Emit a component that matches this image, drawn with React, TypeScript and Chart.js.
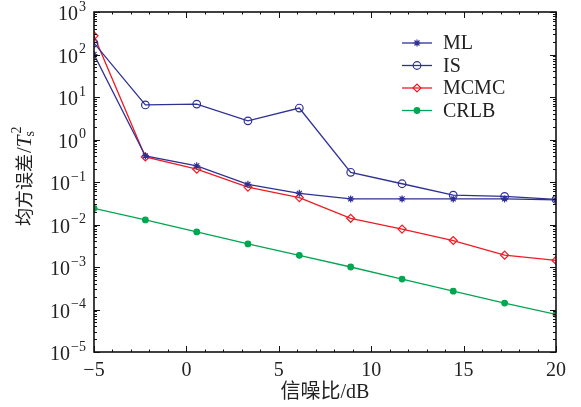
import { useEffect, useRef } from "react";
import { Chart, registerables } from "chart.js";
import { drawPoint } from "chart.js/helpers";

Chart.register(...registerables);

const snrDb = [-5, -2.22, 0.56, 3.33, 6.11, 8.89, 11.67, 14.44, 17.22, 20];
const mlValues = [100, 0.41, 0.24, 0.088, 0.054, 0.04, 0.04, 0.04, 0.04, 0.038];
const isValues = [186, 6.5, 6.8, 2.75, 5.5, 0.169, 0.091, 0.049, 0.046, 0.039];
const mcmcValues = [275, 0.39, 0.2, 0.076, 0.043, 0.014, 0.0078, 0.0042, 0.0019, 0.00143];
const crlbValues = [0.024, 0.0128, 0.0067, 0.0035, 0.00188, 0.001, 0.00052, 0.00027, 0.000142, 0.000077];
const seriesLabels = ["ML", "IS", "MCMC", "CRLB"];
const xTickValues = [-5, 0, 5, 10, 15, 20];
const yTickExponents = [-5, -4, -3, -2, -1, 0, 1, 2, 3];
const xTitle = "信噪比/dB";
const yTitleMain = "均方误差/";
const yTitleSymbol = "T";
const yTitleSub = "s";
const yTitleSup = "2";

const SERIF = "'Liberation Serif', 'Noto Sans CJK SC', serif";
const CJK = "'Noto Sans CJK SC', sans-serif";
const TEXT = "#222";
const BLUE = "#2E3192";
const RED = "#ED1C24";
const GREEN = "#00A651";

const framePlugin = {
  id: "frameAndLabels",
  afterDatasetsDraw(chart: any) {
    const { ctx, chartArea } = chart;
    const { left, right, top, bottom } = chartArea;
    const xs = chart.scales.x;
    const ys = chart.scales.y;
    ctx.save();
    ctx.strokeStyle = "#111";
    ctx.lineWidth = 1;
    // ticks
    ctx.beginPath();
    for (let v = xs.min; v <= xs.max; v += 1) {
      const px = Math.round(xs.getPixelForValue(v)) + 0.5;
      const len = xTickValues.includes(v) ? 6 : 2.5;
      ctx.moveTo(px, bottom);
      ctx.lineTo(px, bottom - len);
      ctx.moveTo(px, top);
      ctx.lineTo(px, top + len);
    }
    for (let e = yTickExponents[0]; e <= yTickExponents[yTickExponents.length - 1]; e++) {
      for (let m = 1; m <= 9; m++) {
        const val = m * Math.pow(10, e);
        if (val > ys.max * 1.0001) break;
        const py = Math.round(ys.getPixelForValue(val)) + 0.5;
        const len = m === 1 ? 6 : 3;
        ctx.moveTo(left, py);
        ctx.lineTo(left + len, py);
        ctx.moveTo(right, py);
        ctx.lineTo(right - len, py);
      }
    }
    ctx.stroke();
    // frame
    ctx.lineWidth = 1.6;
    ctx.strokeRect(left, top, right - left, bottom - top);

    // y tick labels
    ctx.fillStyle = TEXT;
    ctx.textBaseline = "middle";
    for (const e of yTickExponents) {
      const py = ys.getPixelForValue(Math.pow(10, e));
      const base = "10";
      const exp = e < 0 ? "\u2212" + Math.abs(e) : String(e);
      ctx.font = "20px " + SERIF;
      const wb = ctx.measureText(base).width;
      ctx.font = "14px " + SERIF;
      const we = ctx.measureText(exp).width;
      const rx = left - 8;
      const sx = rx - we - wb - 1;
      ctx.font = "20px " + SERIF;
      ctx.textAlign = "left";
      ctx.fillText(base, sx, py + 3);
      ctx.font = "14px " + SERIF;
      ctx.fillText(exp, sx + wb + 1, py - 5);
    }

    // y title (rotated)
    ctx.save();
    const cy = (top + bottom) / 2 - 5;
    ctx.translate(24, cy);
    ctx.rotate(-Math.PI / 2);
    ctx.textBaseline = "alphabetic";
    ctx.textAlign = "left";
    ctx.font = "18px " + CJK;
    const cjkPart = yTitleMain.slice(0, -1);
    const wc = ctx.measureText(cjkPart).width;
    ctx.font = "21px " + SERIF;
    const ws = ctx.measureText("/").width;
    ctx.font = "italic 21px " + SERIF;
    const wt = ctx.measureText(yTitleSymbol).width;
    ctx.font = "14px " + SERIF;
    const wsub = ctx.measureText(yTitleSub).width;
    const total = wc + ws + wt + wsub + 3;
    let x = -total / 2;
    const by = 7;
    ctx.font = "18px " + CJK;
    ctx.fillText(cjkPart, x, by);
    x += wc + 1;
    ctx.font = "21px " + SERIF;
    ctx.fillText("/", x, by);
    x += ws;
    ctx.font = "italic 21px " + SERIF;
    ctx.fillText(yTitleSymbol, x, by);
    x += wt;
    ctx.font = "14px " + SERIF;
    ctx.fillText(yTitleSub, x - 1, by + 3);
    ctx.fillText(yTitleSup, x + 2, by - 10);
    ctx.restore();

    // legend
    const lx0 = right - 154;
    const lx1 = right - 124;
    const ly0 = top + 31;
    const step = 22.5;
    chart.data.datasets.forEach((ds: any, i: number) => {
      const y = ly0 + i * step;
      ctx.strokeStyle = ds.borderColor;
      ctx.lineWidth = ds.borderWidth;
      ctx.beginPath();
      ctx.moveTo(lx0, y);
      ctx.lineTo(lx1, y);
      ctx.stroke();
      ctx.fillStyle = ds.pointBackgroundColor;
      ctx.strokeStyle = ds.borderColor;
      ctx.lineWidth = ds.pointBorderWidth;
      drawPoint(ctx, { pointStyle: ds.pointStyle, radius: ds.pointRadius, rotation: 0, borderWidth: ds.pointBorderWidth }, (lx0 + lx1) / 2, y);
      ctx.fillStyle = TEXT;
      ctx.font = "20px " + SERIF;
      ctx.textAlign = "left";
      ctx.textBaseline = "middle";
      ctx.fillText(ds.label, lx1 + 11, y + 1);
    });
    ctx.restore();
  },
};

function mk(label: string, values: number[], color: string, style: string, radius: number, filled: boolean) {
  return {
    label,
    data: snrDb.map((x, i) => ({ x, y: values[i] })),
    borderColor: color,
    borderWidth: 1.3,
    backgroundColor: color,
    pointStyle: style,
    pointRadius: radius,
    pointBorderWidth: 1.2,
    pointBorderColor: color,
    pointBackgroundColor: filled ? color : "rgba(0,0,0,0)",
    tension: 0,
    fill: false,
  };
}

export default function App() {
  const ref = useRef<HTMLCanvasElement | null>(null);
  useEffect(() => {
    if (!ref.current) return;
    const chart = new Chart(ref.current, {
      type: "line",
      data: {
        datasets: [
          mk(seriesLabels[0], mlValues, BLUE, "star", 3.5, false),
          mk(seriesLabels[1], isValues, BLUE, "circle", 3.8, false),
          mk(seriesLabels[2], mcmcValues, RED, "rectRot", 4, false),
          mk(seriesLabels[3], crlbValues, GREEN, "circle", 2.8, true),
        ] as any,
      },
      options: {
        animation: false,
        responsive: false,
        maintainAspectRatio: false,
        devicePixelRatio: 1,
        layout: { padding: { top: 12, right: 25, left: 0, bottom: 0 } },
        plugins: { legend: { display: false }, tooltip: { enabled: false } },
        scales: {
          x: {
            type: "linear",
            min: -5,
            max: 20,
            afterBuildTicks: (s: any) => {
              s.ticks = xTickValues.map((v) => ({ value: v }));
            },
            afterFit: (s: any) => {
              s.height = 55;
            },
            grid: { display: false, drawTicks: false },
            border: { display: false },
            ticks: {
              font: { family: SERIF, size: 20 },
              color: TEXT,
              padding: 7,
              maxRotation: 0,
              autoSkip: false,
              callback: (v: any) => (Number(v) < 0 ? "\u2212" + Math.abs(Number(v)) : String(v)),
            },
            title: {
              display: true,
              text: xTitle,
              color: TEXT,
              font: { family: SERIF, size: 20 },
              padding: { top: 0, bottom: 2 },
            },
          },
          y: {
            type: "logarithmic",
            min: 1e-5,
            max: 1e3,
            afterFit: (s: any) => {
              s.width = 94;
            },
            ticks: { display: false },
            grid: { display: false, drawTicks: false },
            border: { display: false },
          },
        },
      } as any,
      plugins: [framePlugin],
    });
    return () => chart.destroy();
  }, []);
  return (
    <div style={{ position: "fixed", left: 0, top: 0, width: 581, height: 407, background: "#fff" }}>
      <canvas ref={ref} width={581} height={407} style={{ display: "block" }} />
    </div>
  );
}
